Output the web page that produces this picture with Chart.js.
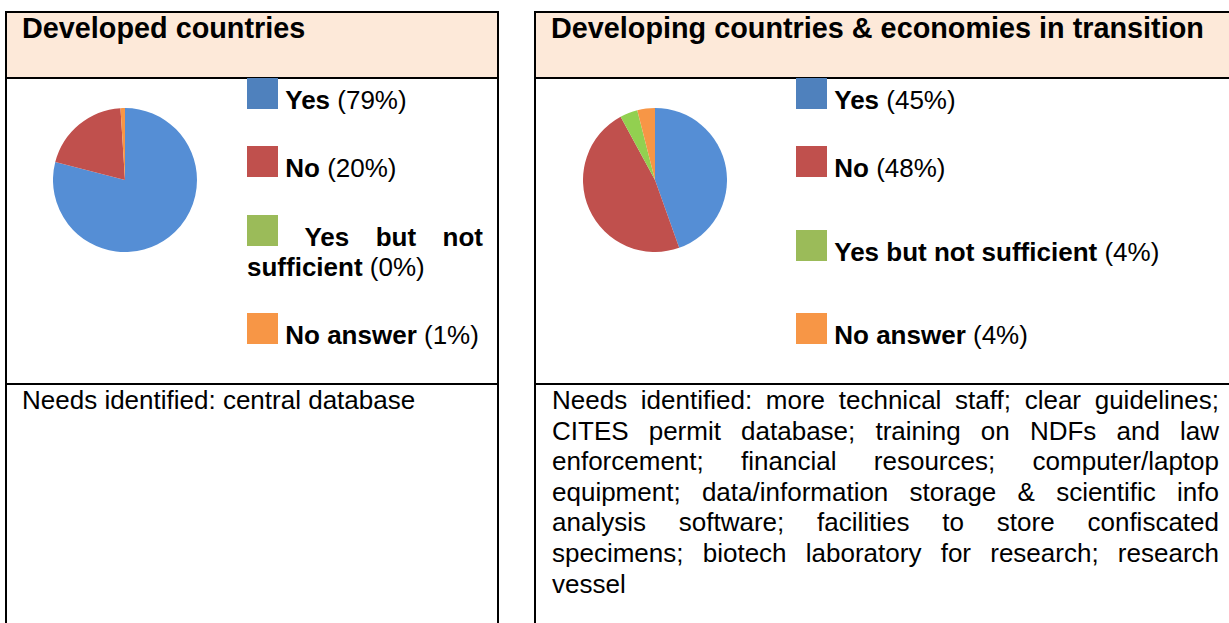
<!DOCTYPE html>
<html lang="en">
<head>
    <meta charset="UTF-8">
    <title>CITES needs survey - pie charts</title>
    <style>
        /* Page */
        body {
            margin: 0;
            width: 1229px;
            height: 623px;
            overflow: hidden;
            background: #fff;
            font-family: "Liberation Sans", Arial, sans-serif;
            color: #000;
            position: relative;
        }

        /* Table cells are drawn as boxes with borders */
        .table {
            position: absolute;
            top: 11px;
            height: 700px;
            border: 2px solid #000;
            box-sizing: border-box;
        }
        .table.left { left: 5px; width: 494px; }
        .table.right { left: 534px; width: 720px; }

        .head {
            position: absolute;
            left: 0; right: 0; top: 0;
            height: 64px;
            background: #fde9d9;
            border-bottom: 2px solid #000;
        }
        .head h2 {
            margin: 0;
            position: absolute;
            left: 15px;
            top: 1px;
            font-size: 28.8px;
            line-height: 28.8px;
            font-weight: bold;
        }

        .middle {
            position: absolute;
            left: 0; right: 0; top: 66px;
            height: 304px;
            border-bottom: 2px solid #000;
        }

        .pie-box {
            position: absolute;
            width: 144px;
            height: 144px;
        }

        .legend-item {
            position: absolute;
            font-size: 26px;
            line-height: 30px;
            text-align: justify;
        }
        .legend-item .sq {
            display: inline-block;
            width: 31px;
            height: 31px;
            vertical-align: baseline;
        }

        .needs {
            position: absolute;
            top: 372px;
            font-size: 26px;
            line-height: 30.6px;
            text-align: justify;
        }
    </style>
</head>
<body>

    <!-- Left table: developed countries -->
    <div class="table left">
        <div class="head"><h2>Developed countries</h2></div>
        <div class="middle"></div>
        <div class="needs" style="left:15px; width:462px;">Needs identified: central database</div>
    </div>

    <!-- Right table: developing countries -->
    <div class="table right">
        <div class="head"><h2>Developing countries &amp; economies in transition</h2></div>
        <div class="middle"></div>
        <div class="needs" style="left:16px; width:667px;">Needs identified: more technical staff; clear guidelines; CITES permit database; training on NDFs and law enforcement; financial resources; computer/laptop equipment; data/information storage &amp; scientific info analysis software; facilities to store confiscated specimens; biotech laboratory for research; research vessel</div>
    </div>

    <div class="pie-box" style="left:53px; top:108px;"><canvas id="pieDeveloped"></canvas></div>
    <div class="pie-box" style="left:583px; top:108px;"><canvas id="pieDeveloping"></canvas></div>

    <div id="legendDeveloped"></div>
    <div id="legendDeveloping"></div>

    <script src="https://cdn.jsdelivr.net/npm/chart.js"></script>
    <script>
        // Survey answers
        const categories = ['Yes', 'No', 'Yes but not sufficient', 'No answer'];
        const developedValues = [79, 20, 0, 1];
        const developingValues = [45, 48, 4, 4];

        // Colours: slices are a bit brighter than the legend squares
        const sliceColors = ['#558ed5', '#c0504d', '#92d050', '#f79646'];
        const legendColors = ['#4f81bd', '#c0504d', '#9bbb59', '#f79646'];

        function makePie(id, values) {
            const ctx = document.getElementById(id).getContext('2d');
            return new Chart(ctx, {
                type: 'pie',
                data: {
                    labels: categories,
                    datasets: [{
                        data: values,
                        backgroundColor: sliceColors,
                        borderWidth: 0
                    }]
                },
                options: {
                    responsive: true,
                    maintainAspectRatio: false,
                    animation: false,
                    events: [],
                    layout: { padding: 0 },
                    plugins: {
                        legend: { display: false },
                        tooltip: { enabled: false }
                    }
                }
            });
        }

        makePie('pieDeveloped', developedValues);
        makePie('pieDeveloping', developingValues);

        // Legend written as text next to each pie
        // (each word bolded on its own so a wrapped label keeps tight boxes)
        function makeLegend(id, values, left, width, tops) {
            const box = document.getElementById(id);
            categories.forEach(function (name, i) {
                const item = document.createElement('div');
                item.className = 'legend-item';
                item.style.left = left + 'px';
                item.style.width = width + 'px';
                item.style.top = tops[i] + 'px';
                const words = name.split(' ').map(function (w) { return '<b>' + w + '</b>'; }).join(' ');
                item.innerHTML = '<span class="sq" style="background:' + legendColors[i] + '"></span> ' +
                    words + ' (' + values[i] + '%)';
                box.appendChild(item);
            });
        }

        makeLegend('legendDeveloped', developedValues, 247, 236, [78, 146, 215, 313]);
        makeLegend('legendDeveloping', developingValues, 796, 420, [78, 146, 230, 313]);
    </script>

</body>
</html>
